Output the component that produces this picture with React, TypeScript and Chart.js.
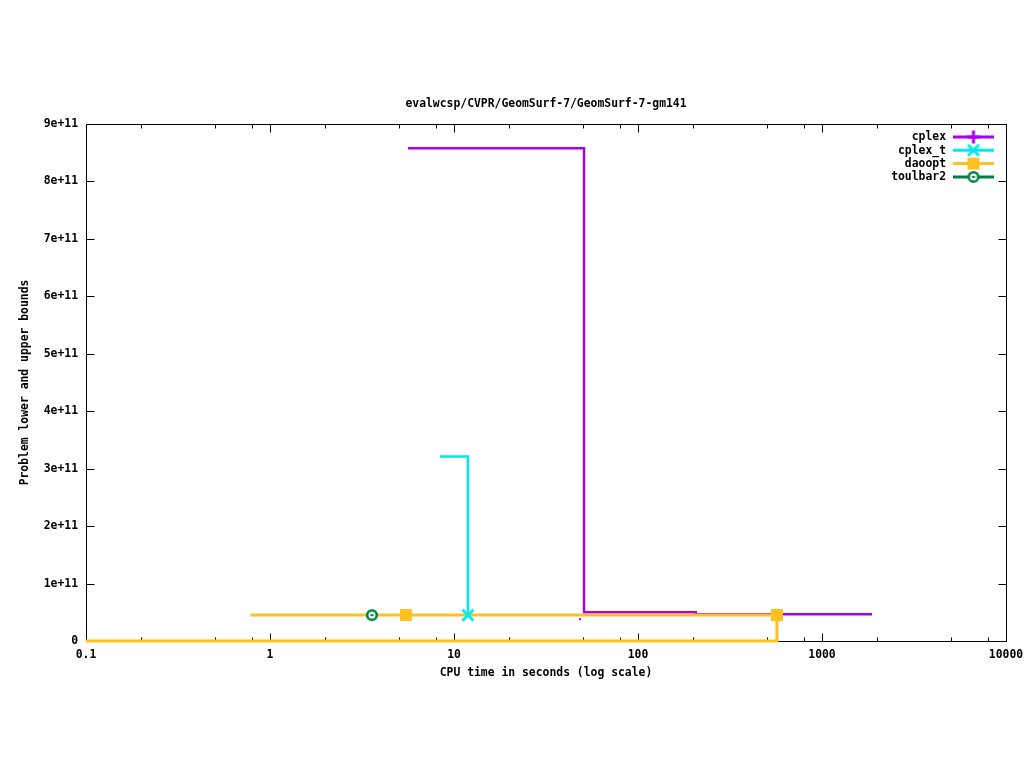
import React, { useEffect, useRef } from 'react';
import { Chart, registerables } from 'chart.js';

Chart.register(...registerables);

// ---- text ----
const chartTitle = 'evalwcsp/CVPR/GeomSurf-7/GeomSurf-7-gm141';
const xAxisTitle = 'CPU time in seconds (log scale)';
const yAxisTitle = 'Problem lower and upper bounds';

// ---- ticks ----
const xTickValues = [0.1, 1, 10, 100, 1000, 10000];
const xTickLabels = ['0.1', '1', '10', '100', '1000', '10000'];
const xMinorFactors = [2, 5, 8];
const yTickValues = [0, 1e11, 2e11, 3e11, 4e11, 5e11, 6e11, 7e11, 8e11, 9e11];
const yTickLabels = ['0', '1e+11', '2e+11', '3e+11', '4e+11', '5e+11', '6e+11', '7e+11', '8e+11', '9e+11'];

// ---- series ----
const seriesNames = ['cplex', 'cplex_t', 'daoopt', 'toulbar2'];
const seriesColors = ['#aa00ee', '#00eaea', '#ffc020', '#008040'];

const cplexUpperX = [5.62, 50.9, 206, 1870];
const cplexUpperY = [8.58e11, 5.0e10, 4.65e10, 4.65e10];
const cplexLowerX = [48.4];
const cplexLowerY = [3.8e10];

const cplexTUpperX = [8.39, 11.9];
const cplexTUpperY = [3.21e11, 4.5e10];

const daooptUpperX = [0.783, 5.48, 569];
const daooptUpperY = [4.53e10, 4.53e10, 4.53e10];
const daooptLowerX = [0.1, 569];
const daooptLowerY = [0, 4.53e10];

const toulbar2X = [3.58];
const toulbar2Y = [4.5e10];

const FONT = { family: "'DejaVu Sans Mono', monospace", size: 11.4, weight: 'bold' as const };

function pts(xs: number[], ys: number[]) {
  return xs.map((x, i) => ({ x, y: ys[i] }));
}

function makeMarker(kind: string, color: string): HTMLCanvasElement {
  const c = document.createElement('canvas');
  c.width = 16;
  c.height = 16;
  const g = c.getContext('2d')!;
  g.fillStyle = color;
  g.strokeStyle = color;
  if (kind === 'plus') {
    g.fillRect(1.5, 6.5, 13, 3);
    g.fillRect(6.5, 1.5, 3, 13);
  } else if (kind === 'x') {
    g.lineWidth = 3;
    g.beginPath();
    g.moveTo(2.5, 2.5);
    g.lineTo(13.5, 13.5);
    g.moveTo(13.5, 2.5);
    g.lineTo(2.5, 13.5);
    g.stroke();
  } else if (kind === 'square') {
    g.fillRect(2, 2, 12, 12);
  } else if (kind === 'circle') {
    g.beginPath();
    g.arc(8, 8, 4.8, 0, Math.PI * 2);
    g.fillStyle = '#ffffff';
    g.fill();
    g.lineWidth = 2.6;
    g.stroke();
    g.fillStyle = color;
    g.fillRect(6.5, 7, 3, 2);
  }
  return c;
}

export default function App() {
  const ref = useRef<HTMLCanvasElement | null>(null);

  useEffect(() => {
    const canvas = ref.current;
    if (!canvas) return;
    const markerKinds = ['plus', 'x', 'square', 'circle'];
    const markers = markerKinds.map((k, i) => makeMarker(k, seriesColors[i]));

    // centre the title over the plot area, as gnuplot does
    const titleCenterPlugin = {
      id: 'titleOverPlot',
      afterLayout(chart: any) {
        const tb = chart.titleBlock;
        const a = chart.chartArea;
        if (tb && a) {
          tb.left = a.left;
          tb.right = a.right;
          tb.width = a.right - a.left;
        }
      },
    };

    const framePlugin = {
      id: 'gnuplotFrame',
      beforeDatasetsDraw(chart: any) {
        const { ctx, chartArea: a, scales } = chart;
        const L = Math.round(a.left) + 0.5;
        const R = Math.round(a.right) + 0.5;
        const T = Math.round(a.top) + 0.5;
        const B = Math.round(a.bottom) + 0.5;
        ctx.save();
        ctx.strokeStyle = '#000';
        ctx.lineWidth = 1;
        ctx.strokeRect(L, T, R - L, B - T);
        ctx.beginPath();
        const major = 8;
        const minor = 4;
        xTickValues.forEach((v) => {
          const px = Math.round(scales.x.getPixelForValue(v)) + 0.5;
          ctx.moveTo(px, B);
          ctx.lineTo(px, B - major);
          ctx.moveTo(px, T);
          ctx.lineTo(px, T + major);
          xMinorFactors.forEach((f) => {
            const mv = v * f;
            if (mv >= 10000) return;
            const mx = Math.round(scales.x.getPixelForValue(mv)) + 0.5;
            ctx.moveTo(mx, B);
            ctx.lineTo(mx, B - minor);
            ctx.moveTo(mx, T);
            ctx.lineTo(mx, T + minor);
          });
        });
        yTickValues.forEach((v) => {
          const py = Math.round(scales.y.getPixelForValue(v)) + 0.5;
          ctx.moveTo(L, py);
          ctx.lineTo(L + major, py);
          ctx.moveTo(R, py);
          ctx.lineTo(R - major, py);
        });
        ctx.stroke();
        ctx.restore();
      },
    };

    const legendPlugin = {
      id: 'gnuplotLegend',
      afterDatasetsDraw(chart: any) {
        const { ctx, chartArea: a } = chart;
        ctx.save();
        ctx.font = `bold ${FONT.size}px ${FONT.family}`;
        ctx.textAlign = 'right';
        ctx.textBaseline = 'middle';
        seriesNames.forEach((name, i) => {
          const y = a.top + 13 + i * 13.3;
          ctx.fillStyle = '#000';
          ctx.fillText(name, a.right - 60, y + 0.5);
          ctx.strokeStyle = seriesColors[i];
          ctx.lineWidth = 3;
          ctx.beginPath();
          ctx.moveTo(a.right - 53, y);
          ctx.lineTo(a.right - 12, y);
          ctx.stroke();
          const m = markers[i];
          ctx.drawImage(m, a.right - 32.5 - m.width / 2, y - m.height / 2);
        });
        ctx.restore();
      },
    };

    const chart = new Chart(canvas, {
      type: 'line',
      data: {
        datasets: [
          {
            label: seriesNames[0],
            data: pts(cplexUpperX, cplexUpperY),
            borderColor: seriesColors[0],
            backgroundColor: seriesColors[0],
            borderWidth: 2.5,
            stepped: true,
            pointRadius: 0,
            fill: false,
            clip: 5,
            order: 4,
          },
          {
            label: seriesNames[0] + ' lower',
            data: pts(cplexLowerX, cplexLowerY),
            borderColor: seriesColors[0],
            backgroundColor: seriesColors[0],
            showLine: false,
            pointStyle: 'rect',
            pointRadius: 1.4,
            pointBorderWidth: 0,
            clip: 5,
            order: 4,
          },
          {
            label: seriesNames[2],
            data: pts(daooptUpperX, daooptUpperY),
            borderColor: seriesColors[2],
            backgroundColor: seriesColors[2],
            borderWidth: 3,
            stepped: true,
            pointStyle: markers[2],
            pointRadius: [0, 6, 6],
            fill: false,
            clip: 8,
            order: 3,
          },
          {
            label: seriesNames[2] + ' lower',
            data: pts(daooptLowerX, daooptLowerY),
            borderColor: seriesColors[2],
            backgroundColor: seriesColors[2],
            borderWidth: 3,
            stepped: true,
            pointRadius: 0,
            fill: false,
            clip: 5,
            order: 3,
          },
          {
            label: seriesNames[1],
            data: pts(cplexTUpperX, cplexTUpperY),
            borderColor: seriesColors[1],
            backgroundColor: seriesColors[1],
            borderWidth: 2.5,
            stepped: true,
            pointStyle: markers[1],
            pointRadius: [0, 6],
            fill: false,
            clip: 8,
            order: 2,
          },
          {
            label: seriesNames[3],
            data: pts(toulbar2X, toulbar2Y),
            borderColor: seriesColors[3],
            backgroundColor: seriesColors[3],
            showLine: false,
            pointStyle: markers[3],
            pointRadius: 6,
            clip: 8,
            order: 1,
          },
        ],
      },
      options: {
        animation: false,
        responsive: false,
        devicePixelRatio: 1,
        events: [],
        layout: { padding: { left: 0, right: 18, top: 0, bottom: 0 } },
        plugins: {
          legend: { display: false },
          tooltip: { enabled: false },
          title: {
            display: true,
            text: chartTitle,
            color: '#000',
            font: FONT,
            padding: { top: 97, bottom: 13.32 },
          },
        },
        scales: {
          x: {
            type: 'logarithmic',
            min: 0.1,
            max: 10000,
            afterBuildTicks: (s: any) => {
              s.ticks = xTickValues.map((v) => ({ value: v }));
            },
            afterFit: (s: any) => {
              s.height = 127;
              s.paddingLeft = 0;
              s.paddingRight = 0;
            },
            grid: { display: false, drawTicks: false },
            border: { display: false },
            ticks: {
              autoSkip: false,
              maxRotation: 0,
              minRotation: 0,
              padding: 7,
              color: '#000',
              font: FONT,
              callback: (_v: any, i: number) => xTickLabels[i],
            },
            title: {
              display: true,
              text: xAxisTitle,
              color: '#000',
              font: FONT,
              padding: { top: 0, bottom: 88 },
            },
          },
          y: {
            type: 'linear',
            min: 0,
            max: 9e11,
            afterBuildTicks: (s: any) => {
              s.ticks = yTickValues.map((v) => ({ value: v }));
            },
            afterFit: (s: any) => {
              s.width = 86;
              s.paddingTop = 0;
              s.paddingBottom = 0;
            },
            grid: { display: false, drawTicks: false },
            border: { display: false },
            ticks: {
              autoSkip: false,
              padding: 8,
              color: '#000',
              font: FONT,
              callback: (_v: any, i: number) => yTickLabels[i],
            },
            title: {
              display: true,
              text: yAxisTitle,
              color: '#000',
              font: FONT,
              padding: { top: 18.5, bottom: 0 },
            },
          },
        },
      },
      plugins: [titleCenterPlugin, framePlugin, legendPlugin],
    } as any);

    return () => chart.destroy();
  }, []);

  return (
    <div style={{ position: 'fixed', left: 0, top: 0, width: 1024, height: 768, background: '#fff' }}>
      <canvas ref={ref} width={1024} height={768} style={{ width: 1024, height: 768, display: 'block' }} />
    </div>
  );
}
